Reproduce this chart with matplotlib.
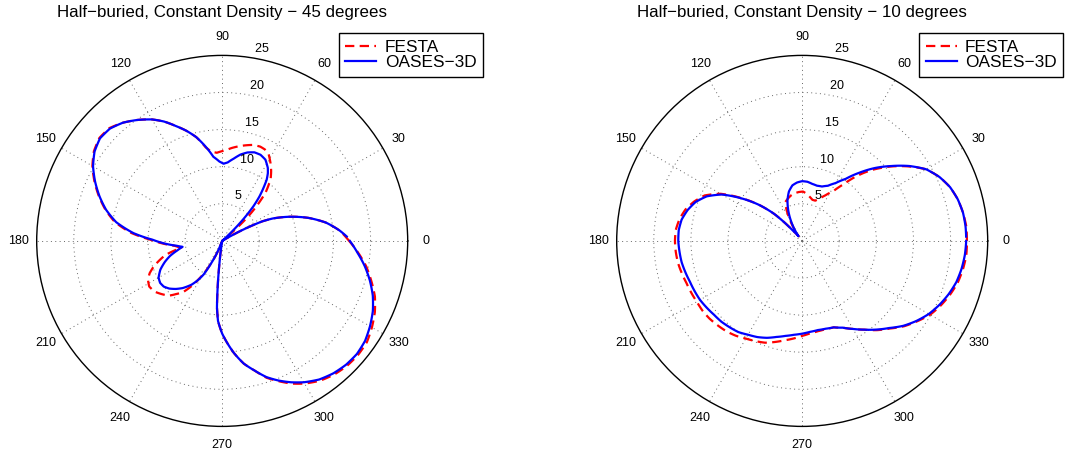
import numpy as np
import matplotlib
matplotlib.use("Agg")
import matplotlib.pyplot as plt

plt.rcParams['font.family'] = ['Liberation Sans', 'DejaVu Sans']

# ---------------- data (angles in degrees, radii in plot units) ----------------
titles = ["Half\u2212buried, Constant Density \u2212 45 degrees",
          "Half\u2212buried, Constant Density \u2212 10 degrees"]
series_labels = ["FESTA", "OASES\u22123D"]
angle_ticks = [0, 30, 60, 90, 120, 150, 180, 210, 240, 270, 300, 330]
ring_ticks = [5, 10, 15, 20, 25]

# 45 degrees - OASES-3D
theta_oases_45 = [2, 5, 10, 15, 20, 24, 26, 28, 30, 32, 42, 44, 46, 48, 50, 52, 54, 56, 58,
                  62, 66, 70, 74, 78, 82, 86, 89, 92, 96, 100, 104, 108, 112, 116, 120, 125,
                  130, 135, 140, 145, 150, 155, 160, 165, 170, 175, 179, 183, 186, 188.5, 192,
                  196, 200, 205, 210, 214, 218, 222, 226, 230, 235, 238, 241, 244, 246.7, 249,
                  261, 263, 264.5, 265.5, 267, 270, 276, 280, 284, 288, 292, 296, 300, 305,
                  310, 315, 320, 325, 330, 335, 340, 345, 350, 355, 360]
r_oases_45 = [16.8, 15.9, 14.2, 12.0, 9.5, 7.4, 6.0, 3.5, 1.0, 0.0, 0.0, 2.1, 4.3, 6.3, 7.8,
              9.0, 10.2, 11.0, 11.6, 12.4, 12.7, 12.7, 12.4, 11.9, 11.2, 10.6, 10.4, 10.7, 11.4,
              12.9, 14.4, 15.6, 16.7, 17.9, 18.9, 19.9, 20.8, 21.4, 21.5, 21.0, 20.1, 18.9,
              17.6, 16.2, 14.5, 12.0, 9.4, 7.6, 6.2, 5.4, 6.2, 7.3, 8.2, 9.2, 9.9, 10.1, 10.0,
              9.6, 9.0, 8.3, 7.2, 6.3, 5.2, 3.2, 1.8, 0.0, 0.0, 3.0, 6.5, 9.0, 10.8, 12.5, 15.2,
              16.8, 18.0, 19.3, 20.3, 21.2, 22.0, 22.8, 23.3, 23.6, 23.7, 23.5, 23.0, 22.4,
              21.6, 20.6, 19.5, 18.3, 17.2]

# 45 degrees - FESTA
theta_festa_45 = [0, 5, 10, 15, 20, 24, 26, 28, 30, 32, 39, 41, 43, 45, 48, 52, 55, 58, 62,
                  65, 68, 72, 77, 80, 84, 87, 90, 93.5, 97, 100, 104, 108, 112, 116, 120, 125,
                  130, 135, 140, 145, 150, 155, 160, 165, 170, 175, 179, 183, 186, 189.5, 194,
                  200.5, 204, 207.7, 212, 216.8, 221, 225.8, 229, 232.6, 236, 240, 244, 246.7,
                  249, 261, 263, 264.5, 265.5, 267, 270, 276, 280, 284, 288, 292, 296, 300, 305,
                  310, 315, 320, 325, 330, 335, 340, 345, 350, 355, 360]
r_festa_45 = [17.1, 15.9, 14.2, 12.0, 9.5, 7.4, 6.0, 3.5, 1.0, 0.0, 0.0, 2.0, 4.5, 6.3, 8.7,
              10.6, 11.5, 12.3, 13.3, 13.6, 13.7, 13.6, 13.2, 12.95, 12.6, 12.3, 12.1, 11.9,
              12.1, 12.8, 14.4, 15.6, 16.7, 17.9, 18.9, 19.9, 20.8, 21.5, 21.6, 21.1, 20.2,
              19.0, 17.7, 16.3, 14.7, 12.3, 9.7, 7.8, 6.4, 5.6, 7.9, 9.85, 10.7, 11.3, 11.6,
              11.4, 10.9, 10.3, 9.5, 8.7, 7.3, 5.3, 3.2, 1.8, 0.0, 0.0, 3.0, 6.5, 9.0, 10.8,
              12.5, 15.2, 16.8, 18.0, 19.4, 20.4, 21.4, 22.2, 23.0, 23.5, 23.8, 23.9, 23.8,
              23.3, 22.7, 21.9, 20.8, 19.7, 18.4, 17.1]

# 10 degrees - OASES-3D
theta_oases_10 = [1.5, 5, 10, 15, 20, 25, 30, 35, 40, 45, 50, 55, 60, 65, 70, 75, 80, 85, 90,
                  95, 100, 105, 110, 115, 120, 125, 128, 132, 134, 136, 140, 145, 150, 155, 160,
                  165, 170, 175, 180, 185, 190, 195, 200, 205, 210, 215, 220, 225, 230, 235,
                  240, 245, 250, 255, 260, 265, 270, 275, 280, 285, 290, 295, 300, 305, 310,
                  315, 320, 325, 330, 335, 340, 345, 350, 355, 360]
r_oases_10 = [22.1, 22.1, 22.0, 21.7, 21.2, 20.4, 19.3, 17.6, 15.7, 13.9, 12.0, 10.2, 9.0, 8.2,
              7.8, 7.7, 7.8, 8.0, 8.05, 7.9, 7.6, 6.9, 5.8, 4.4, 2.9, 1.5, 0.8, 1.8, 3.5, 5.2,
              7.5, 10.0, 12.5, 14.2, 15.3, 16.0, 16.5, 16.7, 16.7, 16.6, 16.5, 16.3, 16.1,
              16.0, 15.9, 15.7, 15.5, 15.4, 15.2, 15.0, 14.6, 14.3, 13.9, 13.4, 13.0, 12.7,
              12.5, 12.3, 12.2, 12.25, 12.4, 12.9, 13.7, 14.6, 15.6, 16.6, 17.8, 18.8,
              19.7, 20.4, 21.0, 21.5, 21.8, 22.0, 22.1]

# 10 degrees - FESTA
theta_festa_10 = [0, 5, 10, 15, 20, 25, 30, 35, 40, 45, 48, 51, 54, 58, 63, 68, 72, 76, 80, 85,
                  89, 94, 99, 104, 109, 113.6, 117, 121, 125, 128, 132, 134, 136, 140, 145, 150,
                  155, 160, 165, 170, 175, 180, 185, 190, 195, 200, 205, 210, 215, 220, 225,
                  230, 235, 240, 245, 250, 255, 260, 265, 270, 275, 280, 285, 290, 295, 300,
                  305, 310, 315, 320, 325, 330, 335, 340, 345, 350, 355, 360]
r_festa_10 = [22.2, 22.2, 22.0, 21.7, 21.2, 20.4, 19.3, 17.5, 15.6, 13.6, 12.3, 10.9, 9.4, 7.9,
              6.9, 6.1, 5.7, 5.7, 6.0, 6.4, 6.65, 6.6, 6.5, 6.3, 6.0, 5.7, 4.6, 3.0, 1.5, 0.8,
              1.8, 3.5, 5.2, 7.5, 10.1, 12.7, 14.5, 15.5, 16.3, 16.8, 17.1, 17.15, 17.1, 17.0,
              16.8, 16.6, 16.5, 16.4, 16.4, 16.3, 16.1, 15.9, 15.6, 15.2, 14.9, 14.6, 14.1,
              13.6, 13.2, 12.8, 12.5, 12.35, 12.3, 12.4, 12.9, 13.7, 14.6, 15.7, 16.7, 17.9,
              18.9, 19.9, 20.6, 21.2, 21.7, 22.0, 22.2, 22.2]

panels = [
    (titles[0], (theta_festa_45, r_festa_45), (theta_oases_45, r_oases_45), 222.2),
    (titles[1], (theta_festa_10, r_festa_10), (theta_oases_10, r_oases_10), 802.2),
]

# ---------------- figure ----------------
W, H = 1066, 457
fig = plt.figure(figsize=(W / 100, H / 100), dpi=100)
R = 185.5      # pixel radius of r = 25
CY = 240.9     # pixel y of centers (from top)
RMAX = 25

for title, festa, oases, cx in panels:
    ax = fig.add_axes([(cx - R) / W, (H - CY - R) / H, 2 * R / W, 2 * R / H],
                      projection='polar')
    ax.set_ylim(0, RMAX)
    ax.set_xticks(np.deg2rad(angle_ticks))
    ax.set_xticklabels([])
    ax.set_yticks(ring_ticks[:-1])
    ax.set_yticklabels([])
    ax.tick_params(length=0)
    ax.grid(True, color='0.4', linestyle=(0, (1, 3.5)), linewidth=0.7)
    ax.spines['polar'].set_linewidth(1.0)
    ax.spines['polar'].set_color('black')

    l1, = ax.plot(np.deg2rad(festa[0]), festa[1], color='red', linewidth=1.6,
                  linestyle=(0, (4.2, 2.4)), label=series_labels[0])
    l2, = ax.plot(np.deg2rad(oases[0]), oases[1], color='blue', linewidth=1.6,
                  label=series_labels[1])
    # let the polar transform draw each segment as a smooth arc
    for ln in (l1, l2):
        ln.get_path()._interpolation_steps = 12

    for a in angle_ticks:
        ax.text(np.deg2rad(a), 1.1 * RMAX, str(a), ha='center', va='center',
                fontsize=9, clip_on=False)
    for rr in ring_ticks:
        ax.text(np.deg2rad(82), rr + 0.25, '  ' + str(rr), ha='left', va='bottom',
                fontsize=9, clip_on=False)

    fig.text(cx / W, 1 - 12 / H, title, ha='center', va='center', fontsize=12.2)

    leg = ax.legend(handles=[l1, l2], loc='upper left',
                    bbox_to_anchor=((cx + 117.1) / W, 1 - 33.3 / H),
                    bbox_transform=fig.transFigure, borderaxespad=0,
                    fontsize=12.4, frameon=True, fancybox=False, framealpha=1,
                    edgecolor='black', handlelength=1.8, handletextpad=0.5,
                    borderpad=0.36, labelspacing=0.04)
    leg.get_frame().set_linewidth(1.0)

fig.savefig('out.png', dpi=100)
